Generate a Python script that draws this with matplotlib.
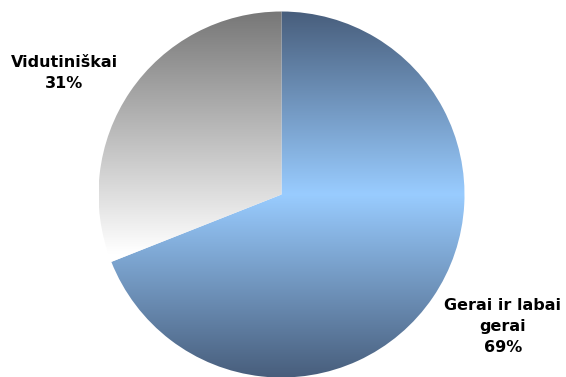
import numpy as np
import matplotlib
matplotlib.use("Agg")
import matplotlib.pyplot as plt
from matplotlib.colors import LinearSegmentedColormap

labels = ["Gerai ir labai\ngerai", "Vidutiniškai"]
shares = [69, 31]

W, H = 566, 377
fig = plt.figure(figsize=(W / 100, H / 100), dpi=100)
ax = fig.add_axes([0, 0, 1, 1])

cx, cy, r = 281.5, H - 194.5, 183

wedges, _ = ax.pie(shares, startangle=90, counterclock=False,
                   center=(cx, cy), radius=r,
                   wedgeprops=dict(linewidth=0, edgecolor="none"),
                   frame=True)

# vertical gradients: blue dark-light-dark, grey dark-to-white
blue_cmap = LinearSegmentedColormap.from_list(
    "blue", [(0.0, "#485e7c"), (0.5, "#99ccff"), (1.0, "#485e7c")])
grey_cmap = LinearSegmentedColormap.from_list(
    "grey", [(0.0, "#777777"), (0.66, "#ffffff"), (1.0, "#ffffff")])

grad = np.linspace(0, 1, 256).reshape(-1, 1)
extent = (cx - r, cx + r, cy - r, cy + r)
for wedge, cmap in zip(wedges, [blue_cmap, grey_cmap]):
    wedge.set_facecolor("none")
    im = ax.imshow(grad, cmap=cmap, extent=extent, origin="upper",
                   aspect="auto", interpolation="bilinear", zorder=1)
    im.set_clip_path(wedge)

ax.set_xlim(0, W)
ax.set_ylim(0, H)
ax.axis("off")

txt = dict(fontsize=11.5, fontweight="bold", ha="center", va="center",
           color="#000000", linespacing=1.5, family="DejaVu Sans")
ax.text(503, H - 327, f"{labels[0]}\n{shares[0]}%", **txt)
ax.text(64, H - 73, f"{labels[1]}\n{shares[1]}%", **txt)

fig.savefig("out.png", dpi=100, facecolor="white")
